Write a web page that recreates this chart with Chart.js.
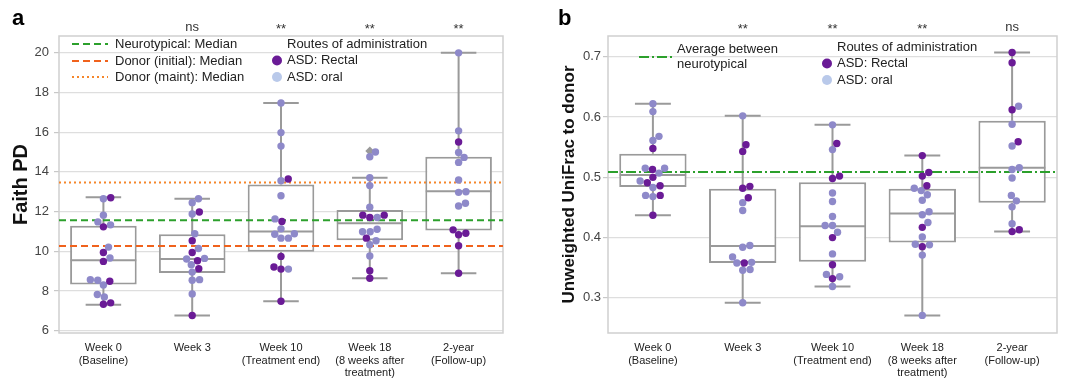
<!DOCTYPE html>
<html lang="en">
<head>
    <meta charset="UTF-8">
    <title>Faith PD / UniFrac box plots</title>
    <style>
        body { margin: 0; background: #fff; }
        canvas { position: absolute; top: 0; }
    </style>
</head>
<body>
    <canvas id="chartA" width="540" height="383" style="left:0"></canvas>
    <canvas id="chartB" width="532" height="383" style="left:540px"></canvas>

    <script src="https://cdn.jsdelivr.net/npm/chart.js"></script>
    <script>
        // Daten
        const categories = [['Week 0', '(Baseline)'], ['Week 3'], ['Week 10', '(Treatment end)'],
            ['Week 18', '(8 weeks after', 'treatment)'], ['2-year', '(Follow-up)']];

        // Panel a: Faith PD
        const faithRectal = [
            [12.70, 11.23, 9.94, 9.49, 8.49, 7.40, 7.33],
            [11.98, 10.53, 9.94, 9.52, 9.12, 6.76],
            [13.64, 11.50, 9.74, 9.10, 9.21, 7.48],
            [11.82, 11.70, 11.82, 10.66, 9.02, 8.64],
            [15.51, 10.91, 10.83, 11.08, 10.28, 8.89]
        ];
        const faithOral = [
            [12.65, 11.82, 11.48, 11.33, 10.21, 9.66, 8.54, 8.57, 8.30, 7.82, 7.70],
            [12.65, 12.45, 11.88, 10.88, 10.14, 9.64, 9.61, 9.32, 8.95, 8.57, 8.54, 7.85],
            [17.47, 15.98, 15.30, 13.56, 12.80, 11.63, 11.13, 10.86, 10.66, 10.66, 10.88, 9.10],
            [15.00, 14.76, 13.71, 13.31, 12.22, 11.70, 11.11, 10.98, 10.98, 10.53, 10.33, 9.76],
            [20.00, 16.07, 14.98, 14.73, 14.48, 13.59, 13.00, 12.97, 12.42, 12.28]
        ];
        const faithQ1 = [8.32, 8.90, 9.97, 10.56, 11.05];
        const faithMedian = [9.55, 9.61, 11.00, 11.41, 13.02];
        const faithQ3 = [11.29, 10.86, 13.37, 12.08, 14.76];
        const faithLow = [7.31, 6.76, 7.48, 8.64, 8.89];
        const faithHigh = [12.72, 12.65, 17.47, 13.71, 20.00];
        const faithFliers = [{ x: 3, y: 15.05 }];
        const faithNeuroMedian = 11.56;
        const faithDonorInitial = 10.26;
        const faithDonorMaint = 13.47;
        const faithTicks = [6, 8, 10, 12, 14, 16, 18, 20];
        const faithSig = ['', 'ns', '**', '**', '**'];

        // Panel b: Unweighted UniFrac
        const unifracRectal = [
            [0.548, 0.513, 0.500, 0.486, 0.491, 0.470, 0.437],
            [0.554, 0.543, 0.485, 0.482, 0.466, 0.358],
            [0.556, 0.502, 0.498, 0.400, 0.355, 0.332],
            [0.536, 0.508, 0.502, 0.486, 0.417, 0.385],
            [0.707, 0.690, 0.612, 0.559, 0.413, 0.410]
        ];
        const unifracOral = [
            [0.622, 0.609, 0.568, 0.561, 0.515, 0.515, 0.507, 0.494, 0.483, 0.468, 0.470],
            [0.602, 0.458, 0.445, 0.387, 0.384, 0.368, 0.359, 0.358, 0.347, 0.346, 0.292],
            [0.587, 0.546, 0.474, 0.460, 0.435, 0.420, 0.420, 0.409, 0.373, 0.335, 0.339, 0.319],
            [0.482, 0.478, 0.471, 0.462, 0.443, 0.438, 0.425, 0.401, 0.388, 0.389, 0.371, 0.271],
            [0.618, 0.588, 0.552, 0.516, 0.513, 0.499, 0.470, 0.461, 0.451, 0.423]
        ];
        const unifracQ1 = [0.484, 0.358, 0.360, 0.392, 0.458];
        const unifracMedian = [0.504, 0.386, 0.419, 0.440, 0.516];
        const unifracQ3 = [0.539, 0.481, 0.492, 0.481, 0.594];
        const unifracLow = [0.437, 0.292, 0.319, 0.271, 0.410];
        const unifracHigh = [0.622, 0.602, 0.587, 0.536, 0.707];
        const unifracNeuroAvg = 0.509;
        const unifracTicks = [0.3, 0.4, 0.5, 0.6, 0.7];
        const unifracSig = ['', '**', '**', '**', 'ns'];

        // Farben / Stil
        const FONT = "'Liberation Sans', Arial, Helvetica, sans-serif";
        const BOX_GRAY = '#9a9a9a';
        const RECTAL = '#6a1b96';
        const ORAL = '#8e89c9';
        const ORAL_LEGEND = '#b9c9ea';
        const GREEN = '#2ca02c';
        const ORANGE = '#f0621c';
        const ORANGE_DOT = '#f5862a';
        const DOT_R = 3.7;

        // Box-Elemente als Linien (Whisker, Caps, Median)
        function segments(pairsFn) {
            const out = [];
            for (let i = 0; i < categories.length; i++) {
                pairsFn(i).forEach(seg => { out.push(seg[0], seg[1], { x: seg[0].x, y: null }); });
            }
            return out;
        }

        function lineSet(label, data, color, dash, order) {
            return {
                type: 'line', label, data, borderColor: color, borderWidth: 2,
                borderDash: dash, pointRadius: 0, fill: false, order
            };
        }

        function boxDatasets(q1, med, q3, lo, hi) {
            return [
                lineSet('whisker', segments(i => [[{ x: i, y: q3[i] }, { x: i, y: hi[i] }], [{ x: i, y: lo[i] }, { x: i, y: q1[i] }]]), BOX_GRAY, [], 3),
                lineSet('caps', segments(i => [[{ x: i - 0.2, y: hi[i] }, { x: i + 0.2, y: hi[i] }], [{ x: i - 0.2, y: lo[i] }, { x: i + 0.2, y: lo[i] }]]), BOX_GRAY, [], 3),
                lineSet('median', segments(i => [[{ x: i - 0.37, y: med[i] }, { x: i + 0.37, y: med[i] }]]), BOX_GRAY, [], 3),
                {
                    type: 'bar', label: 'box', data: q1.map((v, i) => ({ x: i, y: [v, q3[i]] })),
                    backgroundColor: '#fff', borderColor: BOX_GRAY, borderWidth: 2, borderSkipped: false,
                    barPercentage: 0.75, categoryPercentage: 1, order: 4
                }
            ];
        }

        function hLine(label, v, color, dash) {
            return lineSet(label, [{ x: -0.5, y: v }, { x: 4.5, y: v }], color, dash, 2);
        }

        function dots(label, groups, color) {
            const data = [];
            groups.forEach((g, i) => g.forEach(v => data.push({ x: i, y: v })));
            return { type: 'scatter', label, data, backgroundColor: color, borderWidth: 0, pointRadius: DOT_R, order: 0 };
        }

        // Swarm-Layout in Pixeln (wie seaborn swarmplot)
        function swarmOffsets(pys, d) {
            const idx = pys.map((_, i) => i).sort((a, b) => pys[b] - pys[a]);
            const placed = [];
            const out = new Array(pys.length);
            idx.forEach(i => {
                const py = pys[i];
                const cands = [0];
                placed.forEach(p => {
                    const dy = py - p.y;
                    if (Math.abs(dy) < d) {
                        const dx = Math.sqrt(d * d - dy * dy);
                        cands.push(p.x + dx, p.x - dx);
                    }
                });
                cands.sort((a, b) => Math.abs(a) - Math.abs(b));
                const x = cands.find(c => placed.every(p => (p.x - c) ** 2 + (p.y - py) ** 2 >= d * d - 0.01));
                placed.push({ x, y: py });
                out[i] = x;
            });
            return out;
        }

        function applySwarm(chart, rectal, oral) {
            const xs = chart.scales.x, ys = chart.scales.y;
            const unit = xs.getPixelForValue(1) - xs.getPixelForValue(0);
            const r = [], o = [];
            rectal.forEach((rv, g) => {
                const all = rv.concat(oral[g]);
                const off = swarmOffsets(all.map(v => ys.getPixelForValue(v)), DOT_R * 2);
                rv.forEach((v, k) => r.push({ x: g + off[k] / unit, y: v }));
                oral[g].forEach((v, k) => o.push({ x: g + off[rv.length + k] / unit, y: v }));
            });
            chart.data.datasets.find(d => d.label === 'rectal').data = r;
            chart.data.datasets.find(d => d.label === 'oral').data = o;
            chart.update('none');
        }

        // Rahmen, Buchstabe, Signifikanz, Legende
        const decorPlugin = {
            id: 'decor',
            beforeDatasetsDraw(chart, args, opts) {
                const a = chart.chartArea, ctx = chart.ctx;
                ctx.save();
                ctx.strokeStyle = '#cfcfcf';
                ctx.lineWidth = 1.5;
                ctx.strokeRect(a.left, a.top, a.right - a.left, a.bottom - a.top);
                ctx.restore();
            },
            afterDraw(chart, args, opts) {
                const ctx = chart.ctx, xs = chart.scales.x;
                ctx.save();
                ctx.fillStyle = '#000';
                ctx.font = 'bold 22px ' + FONT;
                ctx.textBaseline = 'alphabetic';
                ctx.fillText(opts.letter, opts.letterX, 25);

                ctx.font = '13px ' + FONT;
                ctx.fillStyle = '#333';
                ctx.textAlign = 'center';
                ctx.textBaseline = 'middle';
                opts.sig.forEach((s, i) => { if (s) ctx.fillText(s, xs.getPixelForValue(i), s === 'ns' ? 27 : 29); });

                ctx.textAlign = 'left';
                ctx.fillStyle = '#222';
                opts.lines.forEach(l => {
                    ctx.strokeStyle = l.color;
                    ctx.lineWidth = 2;
                    ctx.setLineDash(l.dash);
                    ctx.beginPath();
                    ctx.moveTo(l.x0, l.y);
                    ctx.lineTo(l.x1, l.y);
                    ctx.stroke();
                    ctx.setLineDash([]);
                    l.text.forEach((t, k) => ctx.fillText(t, l.tx, l.ty + k * 15));
                });
                ctx.fillText('Routes of administration', opts.routeX, opts.routeY);
                [['ASD: Rectal', RECTAL], ['ASD: oral', ORAL_LEGEND]].forEach((e, k) => {
                    const y = opts.routeY + 16.5 * (k + 1);
                    ctx.fillStyle = e[1];
                    ctx.beginPath();
                    ctx.arc(opts.routeX - 10, y, 5, 0, Math.PI * 2);
                    ctx.fill();
                    ctx.fillStyle = '#222';
                    ctx.fillText(e[0], opts.routeX, y);
                });
                ctx.restore();
            }
        };

        function makeChart(id, p) {
            const config = {
                type: 'bar',
                data: {
                    datasets: [
                        dots('rectal', p.rectal, RECTAL),
                        dots('oral', p.oral, ORAL),
                        { type: 'scatter', label: 'flier', data: p.fliers || [], backgroundColor: BOX_GRAY, pointStyle: 'rectRot', pointRadius: 4.5, borderWidth: 0, order: 1 },
                        ...p.refLines,
                        ...boxDatasets(p.q1, p.med, p.q3, p.lo, p.hi)
                    ]
                },
                options: {
                    responsive: false,
                    animation: false,
                    events: [],
                    layout: { padding: { left: 0, right: p.padRight, top: 36, bottom: 0 } },
                    plugins: {
                        legend: { display: false },
                        tooltip: { enabled: false },
                        decor: p.decor
                    },
                    scales: {
                        x: {
                            type: 'linear', min: -0.5, max: 4.5, offset: false,
                            grid: { display: false }, border: { display: false },
                            afterBuildTicks: s => { s.ticks = categories.map((_, i) => ({ value: i })); },
                            afterFit: s => { s.height = 50; },
                            ticks: {
                                callback: v => categories[v], autoSkip: false, maxRotation: 0, padding: 0,
                                color: '#222', font: { family: FONT, size: 11, lineHeight: 1.18 }
                            }
                        },
                        y: {
                            min: p.yMin, max: p.yMax,
                            afterBuildTicks: s => { s.ticks = p.ticks.map(v => ({ value: v })); },
                            afterFit: s => { s.width = p.yWidth; },
                            border: { display: false },
                            grid: { color: '#dedede', tickColor: '#c8c8c8', tickLength: 5, lineWidth: 1.2 },
                            ticks: {
                                callback: p.tickFmt, padding: p.tickPad,
                                color: '#444', font: { family: FONT, size: 13 }
                            },
                            title: {
                                display: true, text: p.title, color: '#111',
                                font: { family: FONT, size: p.titleSize, weight: 'bold' },
                                padding: { top: p.titlePad, bottom: 0 }
                            }
                        }
                    }
                },
                plugins: [decorPlugin]
            };
            const chart = new Chart(document.getElementById(id).getContext('2d'), config);
            applySwarm(chart, p.rectal, p.oral);
            return chart;
        }

        makeChart('chartA', {
            rectal: faithRectal, oral: faithOral, fliers: faithFliers,
            q1: faithQ1, med: faithMedian, q3: faithQ3, lo: faithLow, hi: faithHigh,
            refLines: [
                hLine('neuro', faithNeuroMedian, GREEN, [7, 4]),
                hLine('donorInit', faithDonorInitial, ORANGE, [7, 4]),
                hLine('donorMaint', faithDonorMaint, ORANGE_DOT, [2, 3])
            ],
            yMin: 5.88, yMax: 20.85, ticks: faithTicks, tickFmt: v => v, tickPad: 5,
            yWidth: 59, padRight: 37, title: 'Faith PD', titleSize: 20, titlePad: 9,
            decor: {
                letter: 'a', letterX: 12, sig: faithSig, routeX: 287, routeY: 44,
                lines: [
                    { color: GREEN, dash: [7, 4], x0: 72, x1: 108, y: 44, tx: 115, ty: 44, text: ['Neurotypical: Median'] },
                    { color: ORANGE, dash: [7, 4], x0: 72, x1: 108, y: 61, tx: 115, ty: 61, text: ['Donor (initial): Median'] },
                    { color: ORANGE_DOT, dash: [2, 3], x0: 72, x1: 108, y: 77, tx: 115, ty: 77, text: ['Donor (maint): Median'] }
                ]
            }
        });

        makeChart('chartB', {
            rectal: unifracRectal, oral: unifracOral,
            q1: unifracQ1, med: unifracMedian, q3: unifracQ3, lo: unifracLow, hi: unifracHigh,
            refLines: [hLine('neuroAvg', unifracNeuroAvg, GREEN, [10, 3, 2, 3])],
            yMin: 0.2418, yMax: 0.7344, ticks: unifracTicks, tickFmt: v => v.toFixed(1), tickPad: 2,
            yWidth: 68, padRight: 15, title: 'Unweighted UniFrac to donor', titleSize: 17, titlePad: 19,
            decor: {
                letter: 'b', letterX: 18, sig: unifracSig, routeX: 297, routeY: 47,
                lines: [
                    { color: GREEN, dash: [10, 3, 2, 3], x0: 99, x1: 132, y: 57, tx: 137, ty: 49, text: ['Average between', 'neurotypical'] }
                ]
            }
        });
    </script>
</body>
</html>
